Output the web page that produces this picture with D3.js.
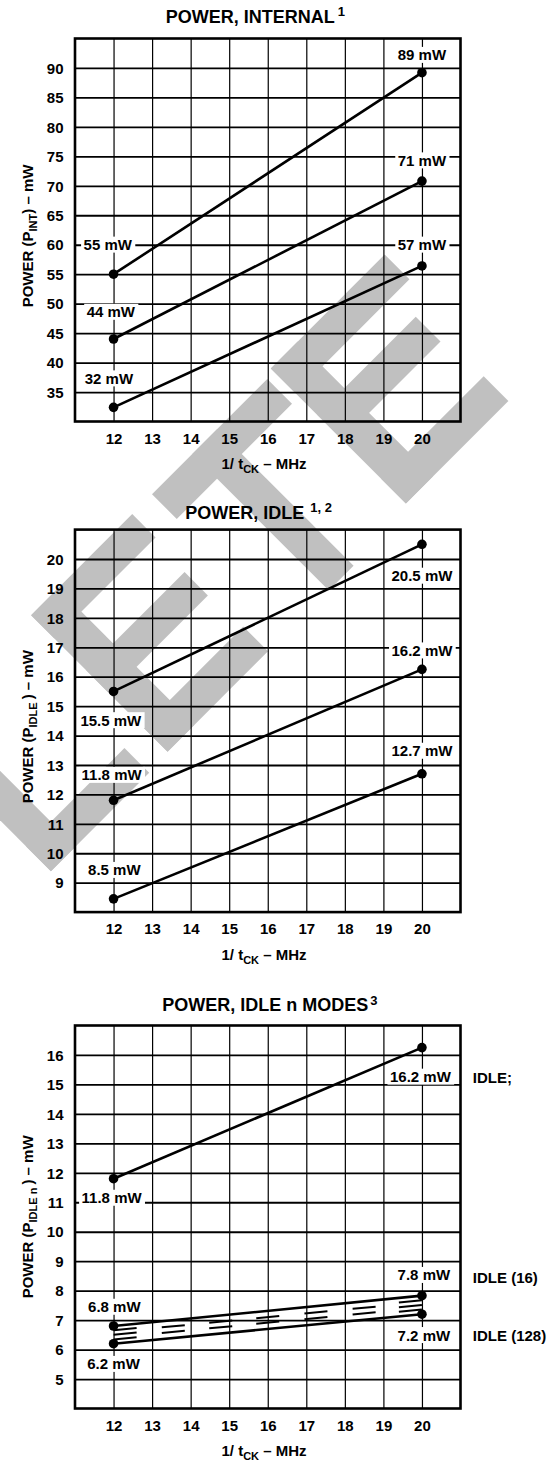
<!DOCTYPE html>
<html><head><meta charset="utf-8">
<script src="https://cdn.jsdelivr.net/npm/d3@7"></script>
<style>
body{margin:0;background:#fff}
svg{display:block}
</style>
</head><body>
<svg id="c" width="552" height="1463"></svg>
<script>
// ---------- data ----------
const xTicks = [12, 13, 14, 15, 16, 17, 18, 19, 20];
const freq = [12, 20];

const internalTicks = [35, 40, 45, 50, 55, 60, 65, 70, 75, 80, 85, 90];
const internalA = [55, 89.2];
const internalB = [44, 70.8];
const internalC = [32.4, 56.4];
const internalLabels = ["89 mW", "71 mW", "57 mW", "55 mW", "44 mW", "32 mW"];

const idleTicks = [9, 10, 11, 12, 13, 14, 15, 16, 17, 18, 19, 20];
const idleA = [15.5, 20.5];
const idleB = [11.8, 16.25];
const idleC = [8.45, 12.7];
const idleLabels = ["20.5 mW", "16.2 mW", "12.7 mW", "15.5 mW", "11.8 mW", "8.5 mW"];

const idleNTicks = [5, 6, 7, 8, 9, 10, 11, 12, 13, 14, 15, 16];
const idleMode = [11.8, 16.25];
const idle16Mode = [6.8, 7.83];
const idle128Mode = [6.2, 7.2];
const idleNLabels = ["16.2 mW", "11.8 mW", "7.8 mW", "6.8 mW", "7.2 mW", "6.2 mW"];
const modeNames = ["IDLE;", "IDLE (16)", "IDLE (128)"];

// ---------- layout (annotation anchors in data units) ----------
const internalLabelAt = [[20, 92.2], [20, 74.3], [20, 60], [11.85, 60], [11.93, 48.6], [11.88, 37.3]];
const idleLabelAt = [[20, 19.43], [20, 16.89], [20, 13.48], [11.93, 14.52], [11.95, 12.66], [12.02, 9.43]];
const idleNLabelAt = [[19.96, 15.26], [11.95, 11.15], [20.05, 8.53], [12.02, 7.45], [20.05, 6.49], [12.0, 5.51]];
const modeNameAt = [[21.32, 15.22], [21.32, 8.45], [21.32, 6.49]];
const hatchAt = [12.3, 13.55, 14.78, 16.0, 17.25, 18.5, 19.7];
const hatchCount = [3, 2, 2, 2, 2, 2, 3];

const FONT = '"Liberation Sans", Arial, Helvetica, sans-serif';
const svg = d3.select("#c");

// ---------- watermark (rotated letters) ----------
const wmRects = [
  [-580, 457, -545, 652], [-580, 617, -441, 652],
  [-413, 457, -375, 650], [-413, 457, -270, 490], [-413, 535, -274, 568], [-413, 615, -271, 650],
  [-242, 457, -79, 492], [-185, 457, -150, 650],
  [-69, 452, -31, 643], [-69, 452, 92, 487], [-69, 518, 70, 553], [-69, 608, 76, 643]
];
const wm = svg.append("g").attr("transform", "rotate(-45)").attr("fill", "#c0c0c0");
wm.selectAll("rect").data(wmRects).join("rect")
  .attr("x", d => d[0]).attr("y", d => d[1])
  .attr("width", d => d[2] - d[0]).attr("height", d => d[3] - d[1]);

function styleText(sel, size) {
  sel.attr("font-family", FONT).attr("font-weight", "bold").attr("font-size", size).attr("fill", "#000");
}

function drawChart(c) {
  const L = 75, R = 460.5;
  const x = d3.scaleLinear().domain([11, 21]).range([L, R]);
  const y = d3.scaleLinear().domain(c.domain).range([c.bottom, c.top]);
  const g = svg.append("g");

  // vertical grid
  g.append("g").attr("transform", `translate(0,${c.bottom})`)
    .call(d3.axisBottom(x).tickValues(xTicks).tickSize(-(c.bottom - c.top)).tickFormat(""))
    .call(a => { a.select(".domain").remove(); a.selectAll("line").attr("stroke", "#000").attr("stroke-width", 1.2); });
  // horizontal grid
  g.append("g").attr("transform", `translate(${L},0)`)
    .call(d3.axisLeft(y).tickValues(c.ticks).tickSize(-(R - L)).tickFormat(""))
    .call(a => { a.select(".domain").remove(); a.selectAll("line").attr("stroke", "#000").attr("stroke-width", 1.8); });
  // frame
  g.append("rect").attr("x", L).attr("y", c.top).attr("width", R - L).attr("height", c.bottom - c.top)
    .attr("fill", "none").attr("stroke", "#000").attr("stroke-width", 2.6);

  // y tick labels
  g.append("g").attr("transform", "translate(63.5,0)")
    .call(d3.axisLeft(y).tickValues(c.ticks).tickSize(0).tickPadding(0))
    .call(a => { a.select(".domain").remove(); styleText(a.selectAll("text"), 15); a.selectAll("text").attr("dy", "0.35em"); });
  // x tick labels
  g.append("g").attr("transform", `translate(0,${c.bottom + 22 - 10.6})`)
    .call(d3.axisBottom(x).tickValues(xTicks).tickSize(0).tickPadding(0))
    .call(a => { a.select(".domain").remove(); styleText(a.selectAll("text"), 15); });

  // x axis title
  const xt = g.append("text").attr("x", 264).attr("y", c.bottom + 47.5).attr("text-anchor", "middle");
  styleText(xt, 15);
  xt.append("tspan").text("1/ t");
  xt.append("tspan").attr("font-size", 11).attr("dy", 4).text("CK");
  xt.append("tspan").attr("dy", -4).text(" \u2013 MHz");

  // y axis title
  const yt = g.append("text").attr("transform", `translate(32.5,${c.yTitleStart}) rotate(-90)`).attr("text-anchor", "start");
  styleText(yt, 15);
  yt.append("tspan").text("POWER (P");
  yt.append("tspan").attr("font-size", 11).attr("dy", 4).text(c.ySub);
  yt.append("tspan").attr("dy", -4).text(") \u2013 mW");

  // chart title
  const tt = g.append("text").attr("x", c.titleX).attr("y", c.titleY);
  styleText(tt, 18);
  tt.append("tspan").text(c.title);
  tt.append("tspan").attr("font-size", 13).attr("dy", -6.5).attr("dx", c.supDx).text(c.sup);

  // value labels with white boxes
  c.labels.forEach((t, i) => {
    const [lx, ly] = c.labelAt[i];
    const lg = g.append("g");
    const te = lg.append("text").attr("x", x(lx)).attr("y", y(ly) + 5.4).attr("text-anchor", "middle").text(t);
    styleText(te, 15);
    const b = te.node().getBBox();
    lg.insert("rect", "text").attr("x", b.x - 2.5).attr("y", b.y + 0.5).attr("width", b.width + 5).attr("height", b.height - 1)
      .attr("fill", "#fff");
  });

  // hatch marks between two series
  if (c.hatch) {
    const [s1, s2] = c.hatch;
    const x0 = x(freq[0]), x1 = x(freq[1]);
    const slope = ((y(s1[1]) + y(s2[1])) / 2 - (y(s1[0]) + y(s2[0])) / 2) / (x1 - x0);
    hatchAt.forEach((hx, i) => {
      const t = (hx - freq[0]) / (freq[1] - freq[0]);
      const ym = (y(s1[0] + t * (s1[1] - s1[0])) + y(s2[0] + t * (s2[1] - s2[0]))) / 2;
      const cx = x(hx);
      const offs = hatchCount[i] === 3 ? [-4.6, 0, 4.6] : [-2.8, 2.8];
      offs.forEach(o => {
        g.append("line")
          .attr("x1", cx - 11.5).attr("y1", ym + o - slope * 11.5)
          .attr("x2", cx + 11.5).attr("y2", ym + o + slope * 11.5)
          .attr("stroke", "#000").attr("stroke-width", 2);
      });
    });
  }

  // series lines and dots
  const line = d3.line().x((d, i) => x(freq[i])).y(d => y(d));
  c.series.forEach(s => {
    g.append("path").datum(s).attr("d", line).attr("fill", "none").attr("stroke", "#000").attr("stroke-width", 2.6);
    g.selectAll(null).data(s).join("circle")
      .attr("cx", (d, i) => x(freq[i])).attr("cy", d => y(d)).attr("r", 4.8).attr("fill", "#000");
  });

  // side names
  if (c.names) {
    c.names.forEach((t, i) => {
      const te = g.append("text").attr("x", x(c.namesAt[i][0])).attr("y", y(c.namesAt[i][1]) + 5.4).text(t);
      styleText(te, 15);
    });
  }
}

drawChart({
  top: 38.5, bottom: 421.5, domain: [30, 95], ticks: internalTicks,
  series: [internalA, internalB, internalC],
  labels: internalLabels, labelAt: internalLabelAt,
  title: "POWER, INTERNAL", sup: "1", supDx: 3, titleX: 165.7, titleY: 22.7,
  ySub: "INT", yTitleStart: 307.3
});
drawChart({
  top: 529.6, bottom: 912.1, domain: [8, 21], ticks: idleTicks,
  series: [idleA, idleB, idleC],
  labels: idleLabels, labelAt: idleLabelAt,
  title: "POWER, IDLE", sup: "1, 2", supDx: 6, titleX: 185.3, titleY: 518.5,
  ySub: "IDLE ", yTitleStart: 803.3
});
drawChart({
  top: 1025.5, bottom: 1408.5, domain: [4, 17], ticks: idleNTicks,
  series: [idleMode, idle16Mode, idle128Mode],
  labels: idleNLabels, labelAt: idleNLabelAt,
  hatch: [idle16Mode, idle128Mode],
  names: modeNames, namesAt: modeNameAt,
  title: "POWER, IDLE n MODES", sup: "3", supDx: 2, titleX: 162.3, titleY: 1011,
  ySub: "IDLE n ", yTitleStart: 1298.3
});
</script>
</body></html>
